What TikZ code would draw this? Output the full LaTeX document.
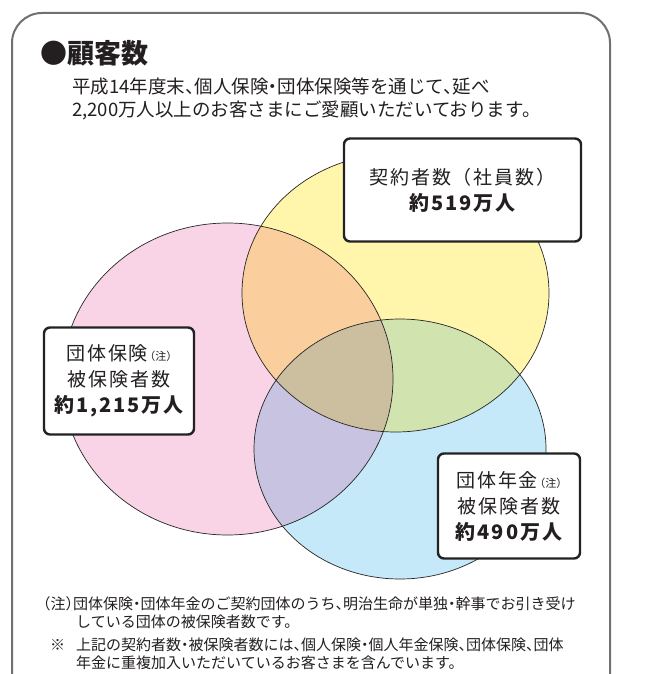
\documentclass[tikz,border=0pt]{standalone}
\usepackage{fontspec}
\setmainfont{Noto Sans CJK JP}[RawFeature=+halt]
\newfontfamily\jpls[LetterSpace=10]{Noto Sans CJK JP}
\newfontfamily\jphalt[RawFeature=+halt]{Noto Sans CJK JP}
\definecolor{pinkc}{HTML}{F8D4E6}
\definecolor{yelc}{HTML}{FFF6AB}
\definecolor{bluc}{HTML}{C6E9F9}
\definecolor{pyc}{HTML}{FBCF9D}
\definecolor{pbc}{HTML}{C7C3E0}
\definecolor{ybc}{HTML}{D1E3AF}
\definecolor{allc}{HTML}{CBBF9F}
\definecolor{framec}{HTML}{707070}
\definecolor{boxc}{HTML}{222222}
\definecolor{txtc}{HTML}{231F20}
\newcommand\pinkE{(227.5,379) ellipse [x radius=165.5pt, y radius=156pt]}
\newcommand\yelE{(395.5,293) ellipse [x radius=153.5pt, y radius=139pt]}
\newcommand\bluE{(400,449) ellipse [x radius=146pt, y radius=130pt]}
\newcommand\chu{{\jphalt\fontsize{11}{11}\selectfont\,（注）}}
\begin{document}
\begin{tikzpicture}[x=1pt,y=-1pt,
  txt/.style={inner sep=0pt, text=txtc},
  note/.style={txt, anchor=west, font=\fontsize{15}{15}\selectfont},
  lbl/.style={draw=boxc, line width=2.4pt, rounded corners=6pt, fill=white, align=center, inner sep=0pt, text=txtc, font=\fontsize{19}{26}\selectfont\jpls},
  big/.style={font=\bfseries\fontsize{20}{26}\selectfont},
  outline/.style={draw=black!85, line width=0.7pt}]
\useasboundingbox (0,0) rectangle (660,674);
\fill[white] (0,0) rectangle (660,674);
% outer frame
\draw[framec, line width=2pt, rounded corners=30pt] (12,720) -- (12,13) -- (610,13) -- (610,720);
% heading
\node[txt, anchor=west, font=\bfseries\fontsize{27}{27}\selectfont] (title) at (40,53) {●顧客数};
\node[txt, anchor=west, font=\fontsize{18.5}{18.5}\selectfont] (intro1) at (72,86) {平成14年度末、個人保険・団体保険等を通じて、延べ};
\node[txt, anchor=west, font=\fontsize{18.5}{18.5}\selectfont] (intro2) at (72,110) {2,200万人以上のお客さまにご愛顧いただいております。};
% ellipses
\fill[pinkc] \pinkE;
\fill[yelc] \yelE;
\fill[bluc] \bluE;
\begin{scope}\clip \pinkE; \fill[pyc] \yelE; \end{scope}
\begin{scope}\clip \pinkE; \fill[pbc] \bluE; \end{scope}
\begin{scope}\clip \yelE; \fill[ybc] \bluE; \end{scope}
\begin{scope}\clip \pinkE; \clip \yelE; \fill[allc] \bluE; \end{scope}
\draw[outline] \pinkE;
\draw[outline] \yelE;
\draw[outline] \bluE;
% labels
\node[lbl, minimum width=237pt, minimum height=103pt] (kyk) at (462.5,190)
  {契約者数（社員数）\\{\bfseries\fontsize{20}{26}\selectfont 約519万人}};
\node[lbl, minimum width=150pt, minimum height=107pt] (dtH) at (119,381)
  {団体保険\chu\\被保険者数\\{\bfseries\fontsize{20}{26}\selectfont 約1,215万人}};
\node[lbl, minimum width=142pt, minimum height=105pt] (dtN) at (509,506)
  {団体年金\chu\\被保険者数\\{\bfseries\fontsize{20}{26}\selectfont 約490万人}};
% notes
\node[note] (n1a) at (43,604) {（注）団体保険・団体年金のご契約団体のうち、明治生命が単独・幹事でお引き受け};
\node[note] (n1b) at (76,622) {している団体の被保険者数です。};
\node[note] (n2m) at (50,645) {※};
\node[note] (n2a) at (76,645) {上記の契約者数・被保険者数には、個人保険・個人年金保険、団体保険、団体};
\node[note] (n2b) at (76,663) {年金に重複加入いただいているお客さまを含んでいます。};
\end{tikzpicture}
\end{document}
